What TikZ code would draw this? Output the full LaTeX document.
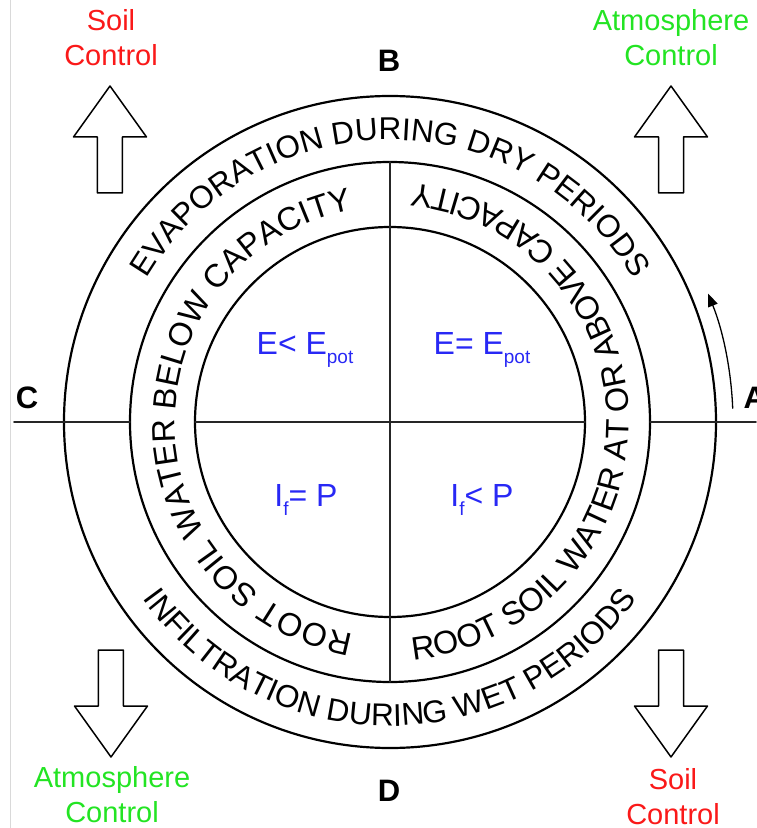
\documentclass[tikz,border=0pt]{standalone}
\usepackage{fontspec}
\setmainfont{Liberation Sans}
\usetikzlibrary{decorations.text,arrows.meta}

\definecolor{soilred}{RGB}{250,25,25}
\definecolor{atmgreen}{RGB}{35,228,35}
\definecolor{eqblue}{RGB}{40,40,245}

\newcommand{\ringfont}{\fontsize{31.5}{36}\selectfont}
\newcommand{\bandfont}{\fontsize{32.5}{36}\selectfont}
\newcommand{\lowsub}[1]{\raisebox{-9pt}{\fontsize{19}{19}\selectfont #1}}

\begin{document}
\begin{tikzpicture}[x=1pt,y=1pt,line join=round,line cap=round,
  ring/.style={line width=2.2pt},
  axis/.style={line width=1.6pt,black!85},
  ctrl/.style={font=\fontsize{29}{35}\selectfont,align=center},
  pole/.style={font=\fontsize{31}{31}\selectfont\bfseries},
  eq/.style={font=\fontsize{32}{32}\selectfont,text=eqblue},
  blockarrow/.pic={\draw[line width=1.5pt] (-12.5,0) -- (-12.5,56) -- (-36.5,56)
    -- (0,107) -- (36.5,56) -- (12.5,56) -- (12.5,0) -- cycle;}]
 \def\rin{195} \def\rmid{260} \def\rout{326}
 \useasboundingbox (-390,-406) rectangle (366,422);
 \draw[gray!30,line width=.8pt] (-380,-406) -- (-380,422);
 % rings
 \draw[ring] (0,0) circle[radius=\rout];
 \draw[ring] (0,0) circle[radius=\rmid];
 \draw[ring] (0,0) circle[radius=\rin];
 % axes
 \draw[axis] (-376,0) -- (-\rmid,0);
 \draw[axis] (-\rin,0) -- (\rin,0);
 \draw[axis] (\rmid,0) -- (366,0);
 \draw[axis] (0,\rmid) -- (0,-\rmid);
 % texts along the rings
 \path[decorate,decoration={text along path,text align=center,
   text={|\ringfont|EVAPORATION DURING DRY PERIODS}}]
   (180:282) arc[start angle=180,end angle=0,radius=282];
 \path[decorate,decoration={text along path,text align=center,
   text={|\ringfont|INFILTRATION DURING WET PERIODS}}]
   (180:304) arc[start angle=180,end angle=360,radius=304];
 \path[decorate,decoration={text along path,text align=center,
   text={|\bandfont|ROOT SOIL WATER BELOW CAPACITY}}]
   (270:215) arc[start angle=270,end angle=90,radius=215];
 \path[decorate,decoration={text along path,text align=center,
   text={|\bandfont|ROOT SOIL WATER AT OR ABOVE CAPACITY}}]
   (-90:239) arc[start angle=-90,end angle=90,radius=239];
 % quadrants
 \node[eq] (evlow) at (-85,72) {E< E\lowsub{pot}};
 \node[eq] (evpot) at (92,72) {E= E\lowsub{pot}};
 \node[eq] (infp) at (-84,-78) {I\lowsub{f}= P};
 \node[eq] (inflow) at (92,-78) {I\lowsub{f}< P};
 % poles
 \node[pole] (B) at (-1,361) {B};
 \node[pole] (C) at (-363,24) {C};
 \node[pole,anchor=west] (A) at (350,24) {A};
 \node[pole] (D) at (-1,-369) {D};
 \coordinate (turnstart) at (2.3:343);
 \draw[line width=1.3pt,-{Triangle[length=13pt,width=10pt]}] (turnstart)
   arc[start angle=2.3,end angle=22,radius=343];
 % controls
 \pic at (-280,229) {blockarrow};
 \pic at (281,229) {blockarrow};
 \pic[rotate=180] at (-279,-228) {blockarrow};
 \pic[rotate=180] at (281,-228) {blockarrow};
 \node[ctrl,text=soilred] (soilNW) at (-279,384) {Soil\\Control};
 \node[ctrl,text=atmgreen] (atmNE) at (281,384) {Atmosphere\\Control};
 \node[ctrl,text=atmgreen] (atmSW) at (-278,-373) {Atmosphere\\Control};
 \node[ctrl,text=soilred] (soilSE) at (283,-375) {Soil\\Control};
\end{tikzpicture}
\end{document}
